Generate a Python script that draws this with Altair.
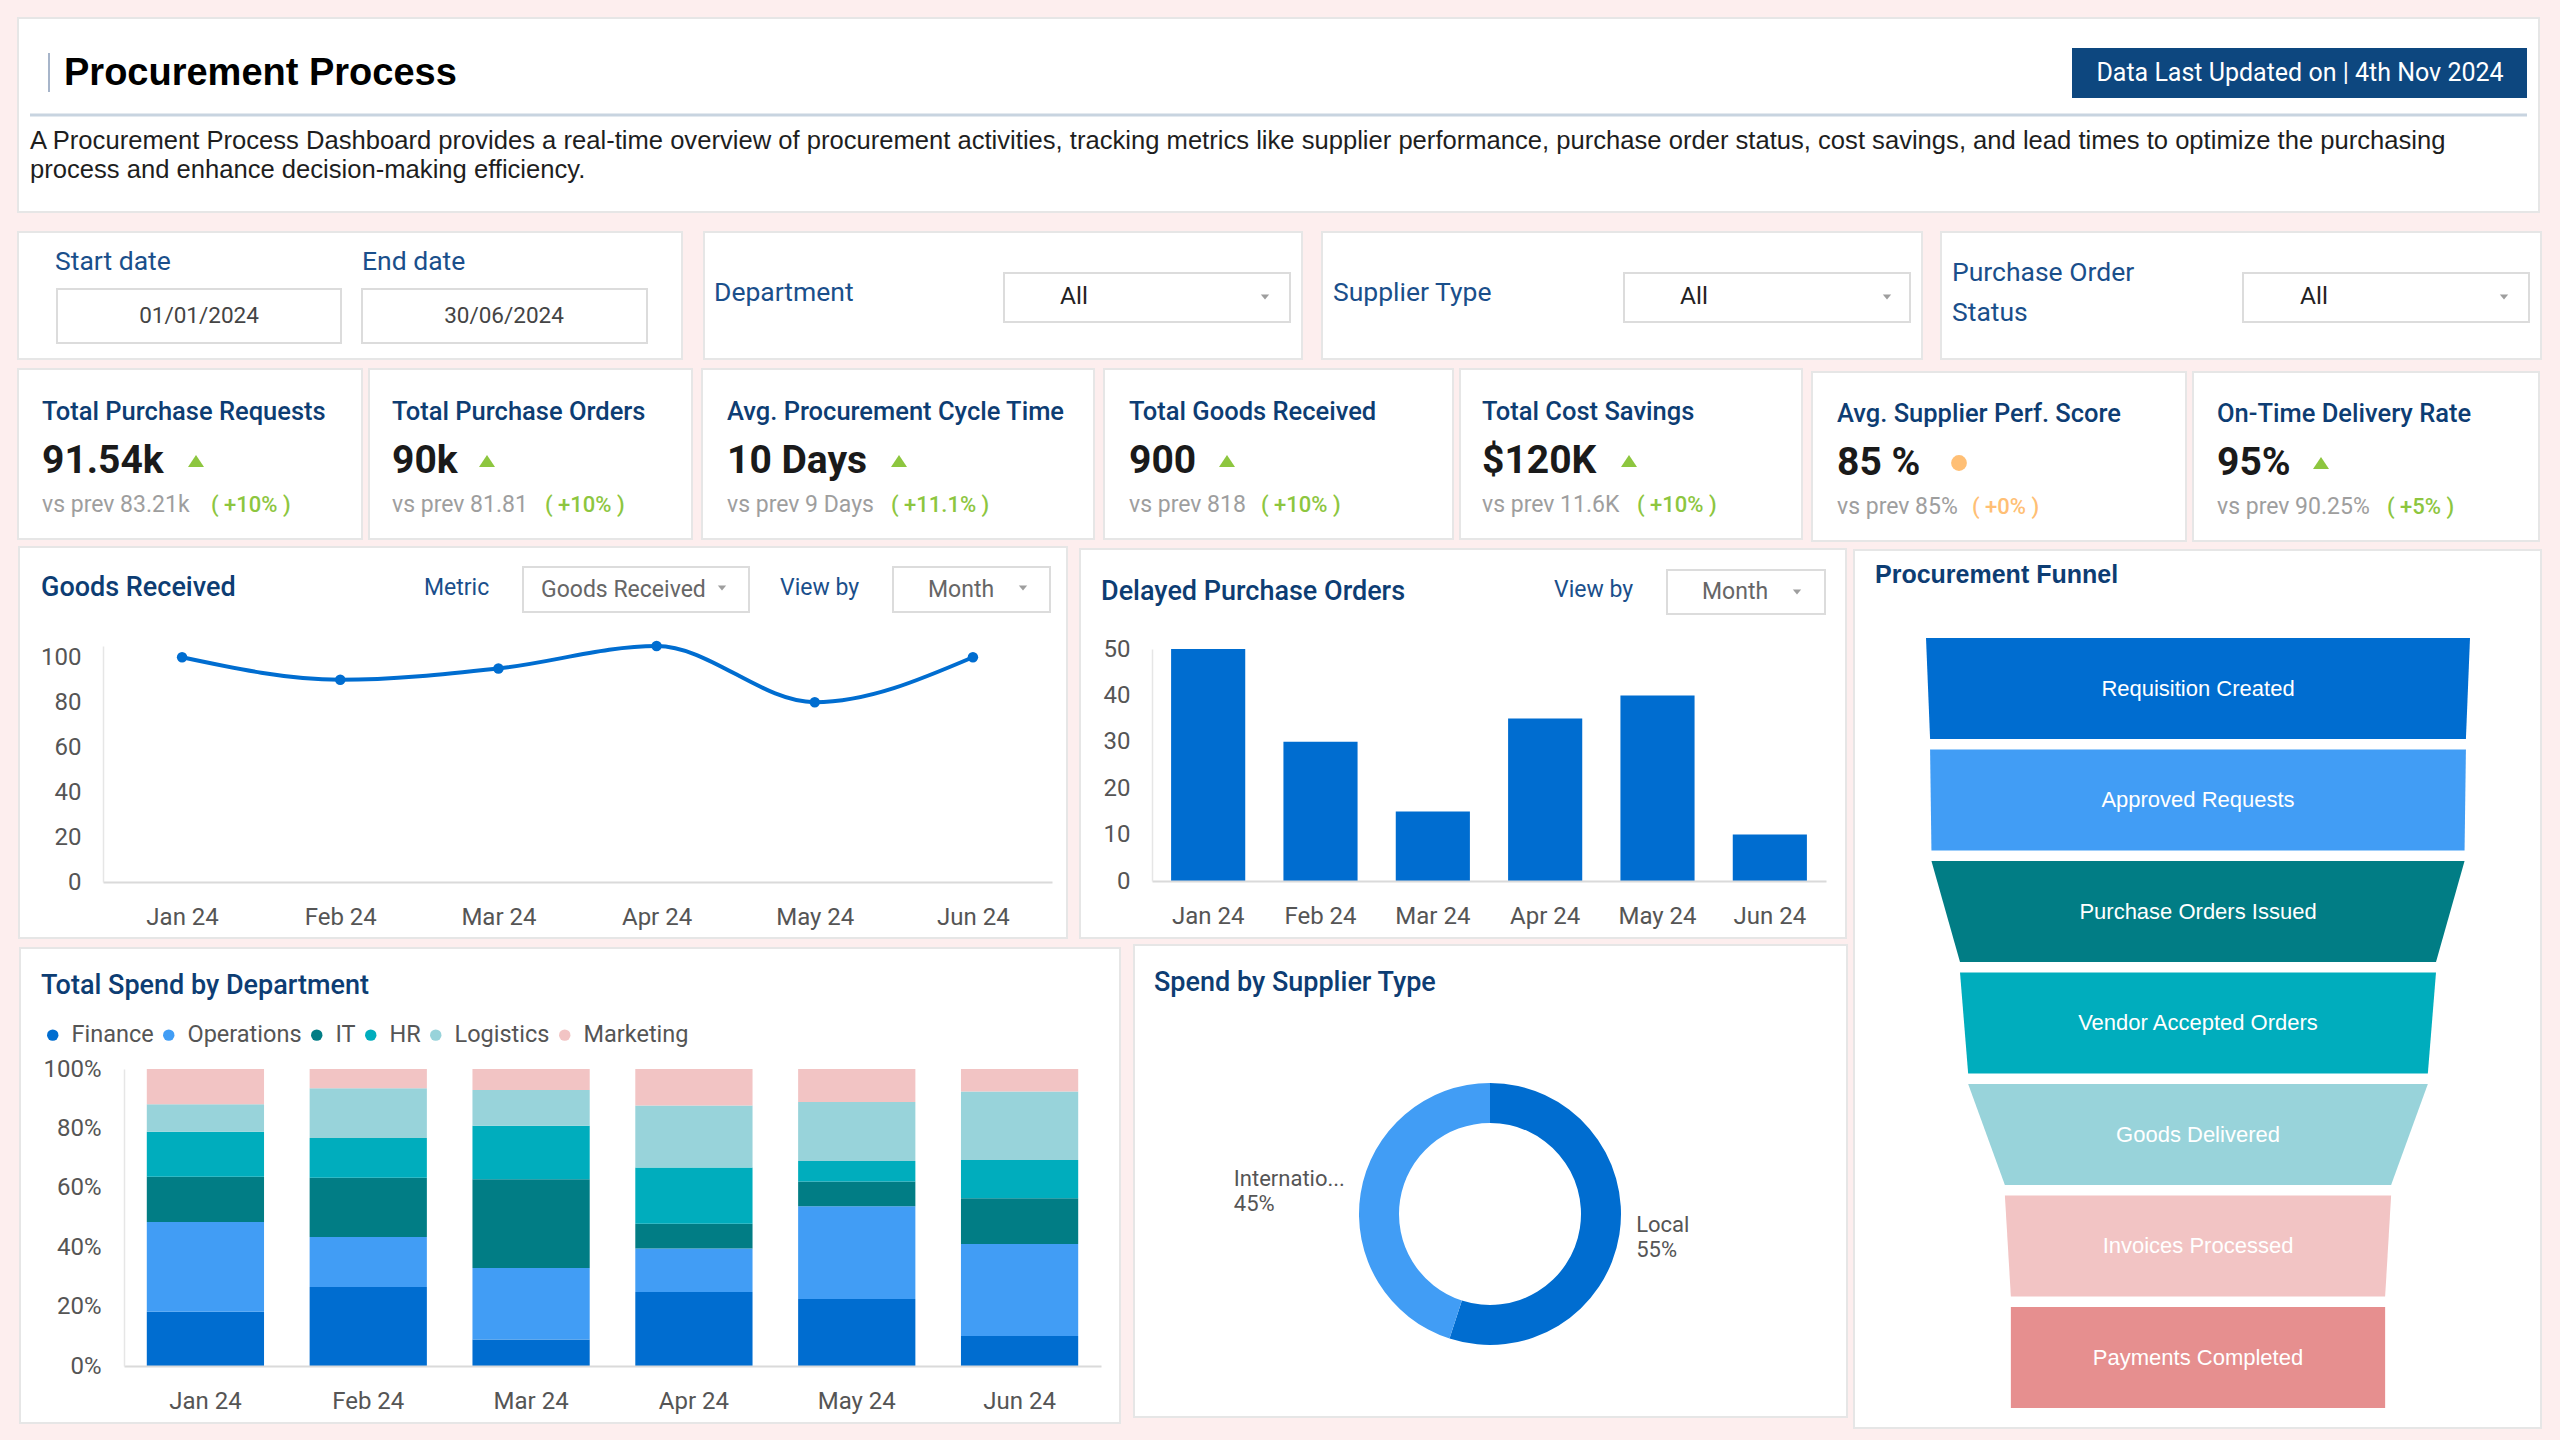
import altair as alt
import pandas as pd

W, H = 2560, 1440
FONT = "Roboto"
SANS = "Liberation Sans"

BLUE = "#006dd0"
LIGHT_BLUE = "#419df5"
TEAL = "#017d85"
CYAN = "#00adbd"
PALE_TEAL = "#98d3da"
PINK = "#f2c4c4"
SALMON = "#e68f8f"
NAVY = "#0d3d73"
LABEL_BLUE = "#1a4f8b"
GREEN = "#8dc63f"
ORANGE = "#ffbf75"
PAGE_BG = "#fdeeee"
AXIS_TEXT = "#555555"

# ---------------------------------------------------------------- data
months = ["Jan 24", "Feb 24", "Mar 24", "Apr 24", "May 24", "Jun 24"]
goods_received = [100, 90, 95, 105, 80, 100]
delayed_orders = [50, 30, 15, 35, 40, 10]

departments = ["Finance", "Operations", "IT", "HR", "Logistics", "Marketing"]
finance_spend = [18.3, 26.6, 8.9, 24.9, 22.6, 10.1]
operations_spend = [30.2, 16.8, 24.1, 14.7, 31.2, 31.0]
it_spend = [15.2, 20.0, 29.9, 8.3, 8.3, 15.4]
hr_spend = [15.2, 13.4, 18.0, 18.9, 6.9, 12.9]
logistics_spend = [9.2, 16.7, 12.0, 20.9, 19.9, 23.0]
marketing_spend = [11.9, 6.5, 7.1, 12.3, 11.1, 7.6]

supplier_types = ["Local", "International"]
supplier_share = [55, 45]

funnel_stages = ["Requisition Created", "Approved Requests", "Purchase Orders Issued",
                 "Vendor Accepted Orders", "Goods Delivered", "Invoices Processed",
                 "Payments Completed"]
funnel_values = [1000, 985, 980, 875, 845, 710, 688]

kpi_titles = ["Total Purchase Requests", "Total Purchase Orders", "Avg. Procurement Cycle Time",
              "Total Goods Received", "Total Cost Savings", "Avg. Supplier Perf. Score",
              "On-Time Delivery Rate"]
kpi_values = ["91.54k", "90k", "10 Days", "900", "$120K", "85 %", "95%"]
kpi_prev = ["vs prev 83.21k", "vs prev 81.81", "vs prev 9 Days", "vs prev 818",
            "vs prev 11.6K", "vs prev 85%", "vs prev 90.25%"]
kpi_change = ["+10%", "+10%", "+11.1%", "+10%", "+10%", "+0%", "+5%"]
kpi_trend = ["up", "up", "up", "up", "up", "flat", "up"]

dashboard_title = "Procurement Process"
description_lines = [
    "A Procurement Process Dashboard provides a real-time overview of procurement activities, "
    "tracking metrics like supplier performance, purchase order status, cost savings, and lead "
    "times to optimize the purchasing",
    "process and enhance decision-making efficiency.",
]
updated_label = "Data Last Updated on | 4th Nov 2024"
start_date, end_date = "01/01/2024", "30/06/2024"

DEPT_COLORS = [BLUE, LIGHT_BLUE, TEAL, CYAN, PALE_TEAL, PINK]
FUNNEL_COLORS = [BLUE, LIGHT_BLUE, TEAL, CYAN, PALE_TEAL, PINK, SALMON]
SUPPLIER_COLORS = [BLUE, LIGHT_BLUE]

# ---------------------------------------------------------------- layout (pixels)
PANELS = [
    (18, 18, 2539, 212),
    (18, 232, 682, 359), (704, 232, 1302, 359), (1322, 232, 1922, 359), (1941, 232, 2541, 359),
    (18, 369, 362, 539), (369, 369, 692, 539), (702, 369, 1094, 539), (1104, 369, 1453, 539),
    (1460, 369, 1802, 539), (1812, 372, 2186, 541), (2193, 372, 2539, 541),
    (19, 547, 1067, 938), (1080, 549, 1846, 938), (1854, 550, 2541, 1428),
    (20, 948, 1120, 1423), (1134, 945, 1847, 1417),
]
INPUTS = [
    (57, 289, 341, 343), (362, 289, 647, 343),
    (1004, 273, 1290, 322), (1624, 273, 1910, 322), (2243, 273, 2529, 322),
    (523, 567, 749, 612), (893, 567, 1050, 612), (1667, 570, 1825, 614),
]
BUTTON = [(2072, 48, 2527, 98)]
ARROWS = [(1265, 297), (1887, 297), (2504, 297), (722, 588), (1023, 588), (1797, 592)]

KPI_X = [42, 392, 727, 1129, 1482, 1837, 2217]
KPI_DY = [0, 0, 0, 0, 0, 2, 2]
KPI_MARK_X = [196, 487, 899, 1227, 1629, 1959, 2321]
KPI_CHANGE_X = [211, 545, 891, 1261, 1637, 1972, 2387]


def box_layer(rows, fill="white", stroke="#e6e6e6", width=2):
    df = pd.DataFrame(rows, columns=["x", "y", "x2", "y2"])
    kw = dict(fill=fill)
    if stroke:
        kw.update(stroke=stroke, strokeWidth=width)
    return alt.Chart(df).mark_rect(**kw).encode(
        x=alt.X("x:Q", scale=None, axis=None), x2="x2:Q",
        y=alt.Y("y:Q", scale=None, axis=None), y2="y2:Q")


def text_layer(rows, font=FONT, size=22, color="#333333", weight="normal",
               align="left", baseline="middle"):
    df = pd.DataFrame(rows, columns=["x", "y", "text"])
    return alt.Chart(df).mark_text(
        font=font, fontSize=size, color=color, fontWeight=weight,
        align=align, baseline=baseline).encode(
        x=alt.X("x:Q", scale=None, axis=None),
        y=alt.Y("y:Q", scale=None, axis=None),
        text="text:N")


def axis_style(**kw):
    # zindex 1 keeps the axes above the white panel cards
    base = dict(title=None, grid=False, ticks=False, tickSize=0, labelFont=FONT,
                labelFontSize=24, labelColor=AXIS_TEXT, domainColor="#dadada",
                domainWidth=2, labelAngle=0, zindex=1)
    base.update(kw)
    return alt.Axis(**base)


layers = []

# panel cards, input boxes and the update badge
layers.append(box_layer(PANELS))
layers.append(box_layer(INPUTS, stroke="#dcdcdc", width=2))
layers.append(box_layer(BUTTON, fill="#0d477f", stroke=None))

# header separator and title accent
sep = pd.DataFrame([{"x": 30, "x2": 2527, "y": 115}])
layers.append(alt.Chart(sep).mark_rule(color="#c8d4e0", strokeWidth=3).encode(
    x=alt.X("x:Q", scale=None, axis=None), x2="x2:Q", y=alt.Y("y:Q", scale=None, axis=None)))
accent = pd.DataFrame([{"x": 49, "y": 53, "y2": 92}])
layers.append(alt.Chart(accent).mark_rule(color="#8a9cb8", strokeWidth=1.5).encode(
    x=alt.X("x:Q", scale=None, axis=None), y=alt.Y("y:Q", scale=None, axis=None), y2="y2:Q"))

# header texts
layers.append(text_layer([(64, 74, dashboard_title)], font=SANS, size=38, color="#000000", weight="bold"))
layers.append(text_layer([(30, 141, description_lines[0]), (30, 170, description_lines[1])],
                         font=SANS, size=25.6, color="#1e1e1e"))
layers.append(text_layer([(2300, 73, updated_label)], size=25, color="white", align="center"))

# filter bar
layers.append(text_layer([(55, 262, "Start date"), (362, 262, "End date"), (714, 293, "Department"),
                          (1333, 293, "Supplier Type"), (1952, 273, "Purchase Order"),
                          (1952, 313, "Status")], size=26.5, color=LABEL_BLUE))
layers.append(text_layer([(199, 316, start_date), (504, 316, end_date)], size=22.5,
                         color="#444444", align="center"))
layers.append(text_layer([(1060, 297, "All"), (1680, 297, "All"), (2300, 297, "All")],
                         size=24.5, color="#222222"))

# chart panel headers and their controls
layers.append(text_layer([(41, 588, "Goods Received"), (1101, 592, "Delayed Purchase Orders"),
                          (41, 986, "Total Spend by Department"),
                          (1154, 983, "Spend by Supplier Type")],
                         size=27, color=NAVY, weight=500))
layers.append(text_layer([(1875, 575, "Procurement Funnel")], font=SANS, size=25,
                         color=NAVY, weight="bold"))
layers.append(text_layer([(424, 588, "Metric"), (780, 588, "View by"), (1554, 590, "View by")],
                         size=23, color=LABEL_BLUE))
layers.append(text_layer([(541, 590, "Goods Received"), (928, 590, "Month"), (1702, 592, "Month")],
                         size=23, color="#666666"))
arrows = pd.DataFrame(ARROWS, columns=["x", "y"])
layers.append(alt.Chart(arrows).mark_point(
    shape="M-1,-0.6L1,-0.6L0,0.6Z", filled=True, size=70, color="#9e9e9e", opacity=1).encode(
    x=alt.X("x:Q", scale=None, axis=None), y=alt.Y("y:Q", scale=None, axis=None)))

# KPI cards
kpi = pd.DataFrame({
    "title": kpi_titles, "value": kpi_values, "prev": kpi_prev,
    "change": ["( " + c + " )" for c in kpi_change], "trend": kpi_trend,
})
kpi["x"] = KPI_X
kpi["dy"] = KPI_DY
kpi["mx"] = KPI_MARK_X
kpi["cx"] = KPI_CHANGE_X
kpi["ty"] = 412 + kpi["dy"]
kpi["vy"] = 461 + kpi["dy"]
kpi["py"] = 505 + kpi["dy"]
kpi["ccolor"] = [GREEN if t == "up" else ORANGE for t in kpi_trend]

kbase = alt.Chart(kpi)
px = lambda f: alt.X(f, scale=None, axis=None)
py = lambda f: alt.Y(f, scale=None, axis=None)
layers.append(kbase.mark_text(font=FONT, fontSize=25.5, fontWeight=500, color=NAVY, align="left",
                              baseline="middle").encode(x=px("x:Q"), y=py("ty:Q"), text="title:N"))
layers.append(kbase.mark_text(font=FONT, fontSize=39, fontWeight="bold", color="#1a1a1a",
                              align="left", baseline="middle").encode(
    x=px("x:Q"), y=py("vy:Q"), text="value:N"))
layers.append(kbase.mark_text(font=FONT, fontSize=23, color="#9e9e9e", align="left",
                              baseline="middle").encode(x=px("x:Q"), y=py("py:Q"), text="prev:N"))
layers.append(kbase.mark_text(font=FONT, fontSize=22, fontWeight=500, align="left",
                              baseline="middle").encode(
    x=px("cx:Q"), y=py("py:Q"), text="change:N", color=alt.Color("ccolor:N", scale=None)))
layers.append(kbase.transform_filter("datum.trend == 'up'").mark_point(
    shape="M-1,0.75L0,-0.75L1,0.75Z", filled=True, size=256, color=GREEN, opacity=1).encode(
    x=px("mx:Q"), y=py("vy:Q")))
layers.append(kbase.transform_filter("datum.trend == 'flat'").mark_point(
    shape="circle", filled=True, size=250, color=ORANGE, opacity=1).encode(
    x=px("mx:Q"), y=py("vy:Q")))

# ---------------------------------------------------------------- Goods Received line
gr_df = pd.DataFrame({"month": months, "value": goods_received})
gr_x = alt.X("month:N", sort=months,
             scale=alt.Scale(type="point", range=[103, 1052], padding=0.5),
             axis=axis_style(orient="bottom", offset=882 - H, labelPadding=23))
gr_y = alt.Y("value:Q", scale=alt.Scale(domain=[0, 105], range=[882, 646], nice=False),
             axis=axis_style(orient="left", offset=-103, values=[0, 20, 40, 60, 80, 100],
                             labelPadding=22, domainColor="#e6e6e6", domainWidth=1.5))
goods_chart = alt.layer(
    alt.Chart(gr_df).mark_line(color=BLUE, strokeWidth=4, interpolate="monotone").encode(
        x=gr_x, y=gr_y),
    alt.Chart(gr_df).mark_point(filled=True, size=110, color=BLUE, opacity=1).encode(
        x=gr_x, y=gr_y),
)
layers.append(goods_chart)

# ---------------------------------------------------------------- Delayed purchase orders
dp_df = pd.DataFrame({"month": months, "orders": delayed_orders})
delayed_chart = alt.Chart(dp_df).mark_bar(color=BLUE).encode(
    x=alt.X("month:N", sort=months,
            scale=alt.Scale(type="band", range=[1152, 1826], paddingInner=0.34, paddingOuter=0.17),
            axis=axis_style(orient="bottom", offset=881 - H, labelPadding=23)),
    y=alt.Y("orders:Q", scale=alt.Scale(domain=[0, 50], range=[881, 649], nice=False),
            axis=axis_style(orient="left", offset=-1152, values=[0, 10, 20, 30, 40, 50],
                            labelPadding=22, domainColor="#e6e6e6", domainWidth=1.5)),
)
layers.append(delayed_chart)

# ---------------------------------------------------------------- Total spend by department
spend_lists = [finance_spend, operations_spend, it_spend, hr_spend, logistics_spend, marketing_spend]
spend_rows = []
for rank, (dept, vals) in enumerate(zip(departments, spend_lists)):
    for m, v in zip(months, vals):
        spend_rows.append({"month": m, "dept": dept, "spend": v, "rank": rank})
spend_df = pd.DataFrame(spend_rows)
spend_chart = alt.Chart(spend_df).mark_bar().encode(
    x=alt.X("month:N", sort=months,
            scale=alt.Scale(type="band", range=[124, 1101], paddingInner=0.28, paddingOuter=0.14),
            axis=axis_style(orient="bottom", offset=1366 - H, labelPadding=23)),
    y=alt.Y("spend:Q", stack="normalize",
            scale=alt.Scale(domain=[0, 1], range=[1366, 1069], nice=False),
            axis=axis_style(orient="left", offset=-124, format=".0%",
                            values=[0, 0.2, 0.4, 0.6, 0.8, 1.0], labelPadding=23,
                            domainColor="#e6e6e6", domainWidth=1.5)),
    color=alt.Color("dept:N", sort=departments,
                    scale=alt.Scale(domain=departments, range=DEPT_COLORS),
                    legend=alt.Legend(orient="none", legendX=41, legendY=1023,
                                      direction="horizontal", title=None, symbolType="circle",
                                      symbolSize=130, symbolStrokeWidth=0, labelFont=FONT,
                                      labelFontSize=23.5, labelColor=AXIS_TEXT, labelOffset=7,
                                      columnPadding=3)),
    order=alt.Order("rank:Q", sort="ascending"),
)
layers.append(spend_chart)

# ---------------------------------------------------------------- Spend by supplier type
sup_df = pd.DataFrame({"type": supplier_types, "share": supplier_share,
                       "rank": list(range(len(supplier_types)))})
total_share = sum(supplier_share)
cum = 0
right_labels, left_labels = [], []
for name, share in zip(supplier_types, supplier_share):
    mid = cum + share / 2
    cum += share
    short = name if len(name) <= 11 else name[:10] + "..."
    label = f"{short}\n{share}%"
    on_right = mid < total_share / 2
    right_labels.append(label if on_right else "")
    left_labels.append("" if on_right else label)
sup_df["right_label"] = right_labels
sup_df["left_label"] = left_labels

theta = alt.Theta("share:Q", stack=True)
sup_order = alt.Order("rank:Q", sort="ascending")
cx, cy = alt.value(1490), alt.value(1214)
sup_base = alt.Chart(sup_df)
label_style = dict(radius=148, align="left", baseline="middle", lineBreak="\n",
                   font=FONT, fontSize=22, color=AXIS_TEXT, lineHeight=25, dy=-12)
donut = alt.layer(
    sup_base.mark_arc(innerRadius=91, outerRadius=131).encode(
        theta=theta, order=sup_order, x=cx, y=cy,
        color=alt.Color("type:N", scale=alt.Scale(domain=supplier_types, range=SUPPLIER_COLORS),
                        legend=None)),
    sup_base.mark_text(**label_style).encode(
        theta=theta, order=sup_order, x=cx, y=cy, text="right_label:N"),
    sup_base.mark_text(dx=-110, **label_style).encode(
        theta=theta, order=sup_order, x=cx, y=cy, text="left_label:N"),
)
layers.append(donut)

# ---------------------------------------------------------------- Procurement funnel
SEG = 0.906  # share of each stage slot filled by its band
funnel_rows, funnel_labels = [], []
for i, (stage, val) in enumerate(zip(funnel_stages, funnel_values)):
    nxt = funnel_values[i + 1] if i + 1 < len(funnel_values) else val
    funnel_rows.append({"stage": stage, "pos": i, "left": -val / 2, "right": val / 2})
    funnel_rows.append({"stage": stage, "pos": i + SEG, "left": -nxt / 2, "right": nxt / 2})
    funnel_labels.append({"stage": stage, "mid": i + SEG / 2, "center": 0})
funnel_df = pd.DataFrame(funnel_rows)
funnel_lbl_df = pd.DataFrame(funnel_labels)
fx_scale = alt.Scale(domain=[-500, 500], range=[1926, 2470])
fy_scale = alt.Scale(domain=[0, len(funnel_stages)], range=[638, 1418.5])
funnel = alt.layer(
    alt.Chart(funnel_df).mark_area(orient="horizontal", opacity=1).encode(
        y=alt.Y("pos:Q", scale=fy_scale, axis=None),
        x=alt.X("left:Q", scale=fx_scale, axis=None, stack=None),
        x2="right:Q",
        color=alt.Color("stage:N", sort=funnel_stages,
                        scale=alt.Scale(domain=funnel_stages, range=FUNNEL_COLORS), legend=None),
        detail="stage:N"),
    alt.Chart(funnel_lbl_df).mark_text(font=SANS, fontSize=22, color="white", align="center",
                                       baseline="middle").encode(
        y=alt.Y("mid:Q", scale=fy_scale, axis=None),
        x=alt.X("center:Q", scale=fx_scale, axis=None),
        text="stage:N"),
)
layers.append(funnel)

chart = alt.layer(*layers).resolve_scale(
    x="independent", y="independent", color="independent", theta="independent"
).resolve_axis(x="independent", y="independent").resolve_legend(color="independent").properties(
    width=W, height=H, padding=0, background=PAGE_BG,
    autosize=alt.AutoSizeParams(type="none"),
).configure_view(stroke=None)

chart.save("out.html", embed_options={"renderer": "svg", "actions": False})
